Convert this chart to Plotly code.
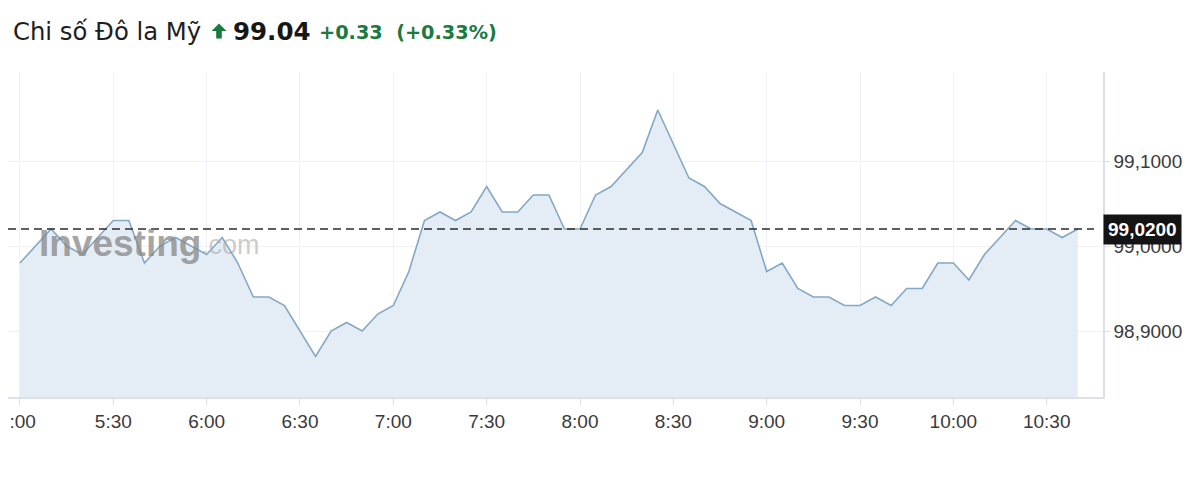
import plotly.graph_objects as go
import pandas as pd

# ---------------- data ----------------
values = [
    98.98, 99.00, 99.02, 99.00, 98.99, 99.01, 99.03, 99.03, 98.98, 99.00,
    99.01, 99.00, 98.99, 99.01, 98.98, 98.94, 98.94, 98.93, 98.90, 98.87,
    98.90, 98.91, 98.90, 98.92, 98.93, 98.97, 99.03, 99.04, 99.03, 99.04,
    99.07, 99.04, 99.04, 99.06, 99.06, 99.02, 99.02, 99.06, 99.07, 99.09,
    99.11, 99.16, 99.12, 99.08, 99.07, 99.05, 99.04, 99.03, 98.97, 98.98,
    98.95, 98.94, 98.94, 98.93, 98.93, 98.94, 98.93, 98.95, 98.95, 98.98,
    98.98, 98.96, 98.99, 99.01, 99.03, 99.02, 99.02, 99.01, 99.02,
]
start_time = "2024-01-01 05:00"
times = pd.date_range(start_time, periods=len(values), freq="5min")

tick_times = ["2024-01-01 05:00", "2024-01-01 05:30", "2024-01-01 06:00",
              "2024-01-01 06:30", "2024-01-01 07:00", "2024-01-01 07:30",
              "2024-01-01 08:00", "2024-01-01 08:30", "2024-01-01 09:00",
              "2024-01-01 09:30", "2024-01-01 10:00", "2024-01-01 10:30"]
tick_labels = ["\u00a0:00", "5:30", "6:00", "6:30", "7:00", "7:30",
               "8:00", "8:30", "9:00", "9:30", "10:00", "10:30"]
y_ticks = [98.9, 99.0, 99.1]
last_value = 99.02
last_label = "99,0200"

title_name = "Chi số Đô la Mỹ"
title_price = "99.04"
title_change = "+0.33"
title_pct = "(+0.33%)"

# ---------------- layout geometry ----------------
OFF = 8                      # page offset of the figure div (body margin)
W, H = 1192, 473
ML, MR, MT, MB = 0, 97, 64, 84
PW = W - ML - MR
PH = H - MT - MB


def px_x(x):
    """page x pixel -> paper x"""
    return (x - OFF - ML) / PW


def px_y(y):
    """page y pixel -> paper y"""
    return (H - MB - (y - OFF)) / PH


GREEN = "#1b7a3e"
LINE = "#84a8c4"
FILL = "#e4edf6"
GRID = "#eff1f5"
AXIS = "#dde0e7"
TXT = "#3a3a3a"

fig = go.Figure()
fig.add_trace(go.Scatter(
    x=times, y=values, mode="lines",
    line=dict(color=LINE, width=1.6),
    fill="tozeroy", fillcolor=FILL,
    hoverinfo="skip", showlegend=False,
))

# dashed last-value line
fig.add_shape(type="line", xref="paper", yref="y",
              x0=0, x1=px_x(1094), y0=last_value, y1=last_value,
              line=dict(color="#2b2b2b", width=1.6, dash="8px,5px"))

# last value label box
fig.add_annotation(xref="paper", yref="y", x=1, y=last_value,
                   xanchor="left", yanchor="middle", showarrow=False,
                   text="<b>" + last_label + "</b>",
                   font=dict(family="Liberation Sans, Arial", size=19, color="white"),
                   bgcolor="#141414", borderpad=4)

# watermark
fig.add_annotation(xref="paper", yref="paper", x=px_x(37), y=px_y(243),
                   xanchor="left", yanchor="middle", showarrow=False,
                   text="<b>Investing</b>",
                   font=dict(family="Liberation Sans, Arial", size=37,
                             color="rgba(135,135,135,0.75)"))
fig.add_annotation(xref="paper", yref="paper", x=px_x(199), y=px_y(245),
                   xanchor="left", yanchor="middle", showarrow=False,
                   text=".com",
                   font=dict(family="Liberation Sans, Arial", size=27,
                             color="rgba(170,170,170,0.6)"))

# title
fig.add_annotation(xref="paper", yref="paper", x=px_x(11), y=px_y(31),
                   xanchor="left", yanchor="middle", showarrow=False,
                   text=title_name,
                   font=dict(family="DejaVu Sans", size=24.3, color="#1e1e1e"))
fig.add_annotation(xref="paper", yref="paper", x=px_x(231), y=px_y(31),
                   xanchor="left", yanchor="middle", showarrow=False,
                   text="<b>" + title_price + "</b>",
                   font=dict(family="DejaVu Sans", size=24.5, color="#161616"))
fig.add_annotation(xref="paper", yref="paper", x=px_x(317), y=px_y(32),
                   xanchor="left", yanchor="middle", showarrow=False,
                   text="<b>" + title_change + "  " + title_pct + "</b>",
                   font=dict(family="DejaVu Sans", size=19.3, color=GREEN))

# up arrow glyph in title
ax = [219, 226.5, 221.8, 221.8, 216.2, 216.2, 211.5]
ay = [23.5, 31, 31, 38.5, 38.5, 31, 31]
path = "M " + " L ".join(f"{px_x(a)},{px_y(b)}" for a, b in zip(ax, ay)) + " Z"
fig.add_shape(type="path", xref="paper", yref="paper", path=path,
              fillcolor=GREEN, line=dict(width=0))

fig.update_layout(
    width=W, height=H,
    margin=dict(l=ML, r=MR, t=MT, b=MB, autoexpand=False),
    paper_bgcolor="white", plot_bgcolor="white",
    separators=",.",
    showlegend=False,
    xaxis=dict(
        range=["2024-01-01 04:56:09", "2024-01-01 10:48:06"],
        tickmode="array", tickvals=tick_times, ticktext=tick_labels,
        ticklabeloverflow="allow", automargin=False,
        showgrid=True, gridcolor=GRID, gridwidth=1,
        showline=True, linecolor=AXIS, linewidth=1.5,
        ticks="outside", ticklen=6, tickcolor=AXIS,
        tickfont=dict(family="Liberation Sans, Arial", size=19, color=TXT),
        zeroline=False, fixedrange=True,
    ),
    yaxis=dict(
        side="right", automargin=False,
        range=[98.8224, 99.2047],
        tickmode="array", tickvals=y_ticks, tickformat=".4f",
        showgrid=True, gridcolor=GRID, gridwidth=1,
        showline=True, linecolor=AXIS, linewidth=1.5,
        ticks="outside", ticklen=5, tickcolor=AXIS,
        tickfont=dict(family="Liberation Sans, Arial", size=19, color=TXT),
        zeroline=False, fixedrange=True,
    ),
)

fig.write_html("out.html")
